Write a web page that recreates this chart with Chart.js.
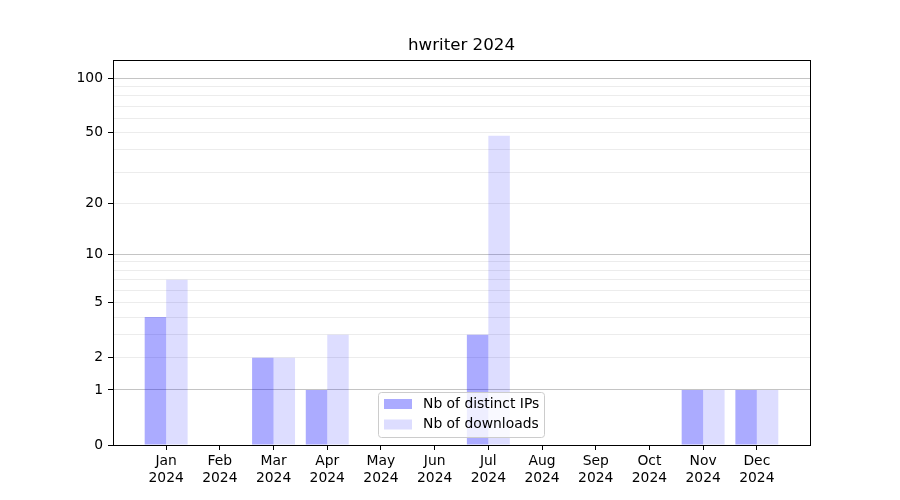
<!DOCTYPE html>
<html>
<head>
<meta charset="utf-8">
<script src="https://cdn.jsdelivr.net/npm/chart.js@4/dist/chart.umd.min.js"></script>
<style>
  html, body { margin: 0; padding: 0; background: #fff; }
  #wrap { width: 900px; height: 500px; }
</style>
</head>
<body>
<div id="wrap"><canvas id="c" width="900" height="500"></canvas></div>
<script>
// ---- data ----
const months = ['Jan', 'Feb', 'Mar', 'Apr', 'May', 'Jun', 'Jul', 'Aug', 'Sep', 'Oct', 'Nov', 'Dec'];
const yearLabel = '2024';
const distinctIPs = [4, 0, 2, 1, 0, 0, 3, 0, 0, 0, 1, 1];
const downloads   = [7, 0, 2, 3, 0, 0, 48, 0, 0, 0, 1, 1];
const seriesNames = ['Nb of distinct IPs', 'Nb of downloads'];
const chartTitle = 'hwriter 2024';
const yLabelledTicks = [0, 1, 2, 5, 10, 20, 50, 100];
const yMinorTicks = [3, 4, 6, 7, 8, 9, 30, 40, 60, 70, 80, 90];
const yDecadeTicks = [1, 10, 100];
const yMax = 126;

const FONT = 'DejaVu Sans';
Chart.defaults.font.family = FONT;
Chart.defaults.font.size = 13.89;
Chart.defaults.color = '#000';

// symmetric-log-like scale: position proportional to log10(1 + v)
class Log1pScale extends Chart.LinearScale {
  buildTicks() {
    const all = yLabelledTicks.concat(yMinorTicks).sort((a, b) => a - b);
    return all.map(v => ({ value: v }));
  }
  _t(v) { return Math.log10(1 + v); }
  getPixelForValue(value) {
    const a = this._t(this.min), b = this._t(this.max);
    return this.getPixelForDecimal((this._t(value) - a) / (b - a));
  }
  getValueForPixel(pixel) {
    const a = this._t(this.min), b = this._t(this.max);
    const d = this.getDecimalForPixel(pixel);
    return Math.pow(10, a + d * (b - a)) - 1;
  }
}
Log1pScale.id = 'log1p';
Log1pScale.defaults = {};
Chart.register(Log1pScale);

const colors = ['rgba(0,0,255,0.33)', 'rgba(0,0,255,0.135)'];

const framePlugin = {
  id: 'frame',
  afterDatasetsDraw(chart) {
    const { ctx, chartArea: a } = chart;
    ctx.save();
    ctx.strokeStyle = '#000';
    ctx.lineWidth = 1;
    ctx.strokeRect(Math.round(a.left) + 0.5, Math.round(a.top) + 0.5,
                   Math.round(a.right - a.left), Math.round(a.bottom - a.top));
    ctx.restore();
  },
  afterDraw(chart) {
    const { ctx, chartArea: a } = chart;
    ctx.save();
    // title
    ctx.fillStyle = '#000';
    ctx.font = '16.67px "' + FONT + '"';
    ctx.textAlign = 'center';
    ctx.textBaseline = 'middle';
    ctx.fillText(chartTitle, (a.left + a.right) / 2, 46);
    // legend box
    const lx = 378.5, ly = 392.5, lw = 166, lh = 45, r = 3;
    ctx.beginPath();
    ctx.moveTo(lx + r, ly);
    ctx.lineTo(lx + lw - r, ly);
    ctx.quadraticCurveTo(lx + lw, ly, lx + lw, ly + r);
    ctx.lineTo(lx + lw, ly + lh - r);
    ctx.quadraticCurveTo(lx + lw, ly + lh, lx + lw - r, ly + lh);
    ctx.lineTo(lx + r, ly + lh);
    ctx.quadraticCurveTo(lx, ly + lh, lx, ly + lh - r);
    ctx.lineTo(lx, ly + r);
    ctx.quadraticCurveTo(lx, ly, lx + r, ly);
    ctx.closePath();
    ctx.fillStyle = 'rgba(255,255,255,0.8)';
    ctx.fill();
    ctx.strokeStyle = '#cccccc';
    ctx.lineWidth = 1;
    ctx.stroke();
    ctx.font = '13.89px "' + FONT + '"';
    ctx.textAlign = 'left';
    chart.data.datasets.forEach((ds, i) => {
      const py = 399 + i * 20.5;
      ctx.fillStyle = ds.backgroundColor;
      ctx.fillRect(384, py, 28, 10);
      ctx.fillStyle = '#000';
      ctx.fillText(ds.label, 423, py + 5);
    });
    ctx.restore();
  }
};

new Chart(document.getElementById('c'), {
  type: 'bar',
  data: {
    datasets: [
      { label: seriesNames[0], data: distinctIPs.map((v, i) => ({ x: i, y: v })), backgroundColor: colors[0], borderWidth: 0 },
      { label: seriesNames[1], data: downloads.map((v, i) => ({ x: i, y: v })), backgroundColor: colors[1], borderWidth: 0 }
    ]
  },
  options: {
    responsive: false,
    animation: false,
    events: [],
    categoryPercentage: 0.8,
    barPercentage: 1.0,
    layout: { padding: { left: 0, right: 90, top: 60, bottom: 0 } },
    plugins: {
      legend: { display: false },
      title: { display: false },
      tooltip: { enabled: false }
    },
    scales: {
      x: {
        type: 'linear',
        min: -0.99,
        max: 11.99,
        offset: false,
        afterBuildTicks: (s) => { s.ticks = months.map((_, i) => ({ value: i })); },
        afterFit: (s) => { s.height = 55; },
        border: { display: true, color: '#000', width: 1 },
        grid: { offset: false, drawOnChartArea: false, drawTicks: true, tickLength: 5, tickColor: '#000', tickWidth: 1 },
        ticks: {
          autoSkip: false,
          maxRotation: 0,
          padding: 3,
          color: '#000',
          callback: (v) => { const i = Math.round(v); return months[i] ? [months[i], yearLabel] : ''; }
        }
      },
      y: {
        type: 'log1p',
        min: 0,
        max: yMax,
        afterFit: (s) => { s.width = 113; },
        border: { display: true, color: '#000', width: 1 },
        grid: {
          drawTicks: true,
          tickLength: 5,
          tickWidth: 1,
          lineWidth: 1,
          color: (c) => {
            const v = c.tick ? c.tick.value : null;
            if (v === 0) return 'rgba(0,0,0,0)';
            if (yDecadeTicks.includes(v)) return '#c4c4c4';
            return '#ececec';
          },
          tickColor: (c) => {
            const v = c.tick ? c.tick.value : null;
            return yLabelledTicks.includes(v) ? '#000' : 'rgba(0,0,0,0)';
          }
        },
        ticks: {
          autoSkip: false,
          padding: 5,
          color: '#000',
          callback: (v) => yLabelledTicks.includes(v) ? String(v) : ''
        }
      }
    }
  },
  plugins: [framePlugin]
});
</script>
</body>
</html>
